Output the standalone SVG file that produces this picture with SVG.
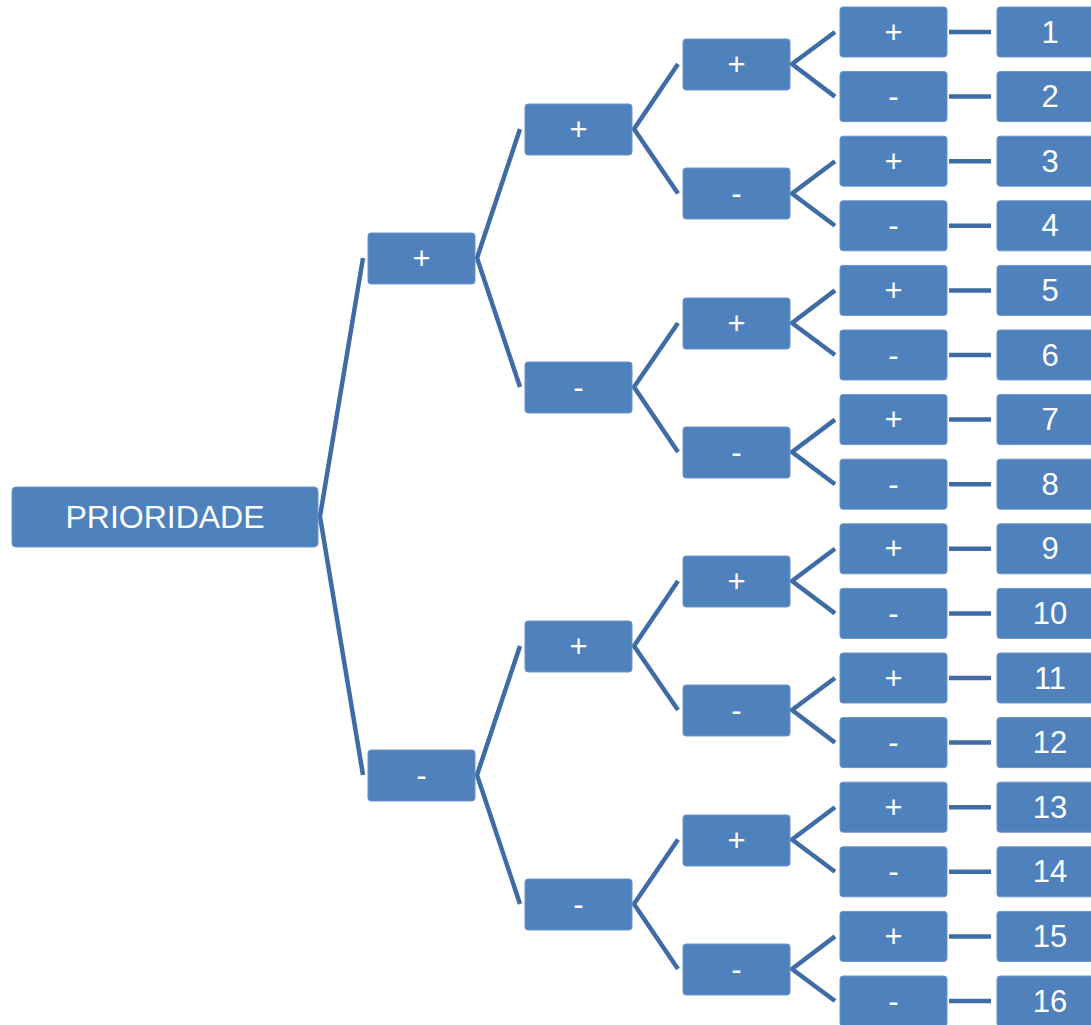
<svg xmlns="http://www.w3.org/2000/svg" width="1091" height="1025" viewBox="0 0 1091 1025">
<style>
.n{fill:#4F81BD;stroke:#6A93C8;stroke-width:1}
.t{fill:#fff;font-family:"Liberation Sans",Arial,sans-serif;text-anchor:middle;dominant-baseline:central}
.s{font-size:31px}
.d{font-size:31px}
.c{fill:none;stroke:#3F6CA4;stroke-width:4.5;stroke-linejoin:miter}
</style>
<rect width="1091" height="1025" fill="#fff"/>
<g id="connectors">
<path class="c" d="M363 258 L320 516.5 L363 775"/>
<path class="c" d="M520 129 L477 258 L520 387"/>
<path class="c" d="M520 646 L477 775 L520 904"/>
<path class="c" d="M678 64 L634 129 L678 193.5"/>
<path class="c" d="M678 323 L634 387 L678 452"/>
<path class="c" d="M678 581 L634 646 L678 710"/>
<path class="c" d="M678 839.5 L634 904 L678 969"/>
<path class="c" d="M835 32 L792 64 L835 96.6"/>
<path class="c" d="M835 161.2 L792 193.5 L835 225.8"/>
<path class="c" d="M835 290.4 L792 323 L835 355"/>
<path class="c" d="M835 419.6 L792 452 L835 484.2"/>
<path class="c" d="M835 548.8 L792 581 L835 613.4"/>
<path class="c" d="M835 678 L792 710 L835 742.6"/>
<path class="c" d="M835 807.2 L792 839.5 L835 871.8"/>
<path class="c" d="M835 936.4 L792 969 L835 1001"/>
<path class="c" d="M949 32H991M949 96.6H991M949 161.2H991M949 225.8H991M949 290.4H991M949 355H991M949 419.6H991M949 484.2H991M949 548.8H991M949 613.4H991M949 678H991M949 742.6H991M949 807.2H991M949 871.8H991M949 936.4H991M949 1001H991"/>
</g>
<g id="root"><rect class="n" x="12" y="487" width="306" height="60" rx="4"/><text class="t" x="165" y="517" font-size="32">PRIORIDADE</text></g>
<g id="l1p"><rect class="n" x="368" y="233" width="107" height="51" rx="3"/><text class="t s" x="421.5" y="258">+</text></g>
<g id="l1m"><rect class="n" x="368" y="750" width="107" height="51" rx="3"/><text class="t s" x="421.5" y="775">-</text></g>
<g id="l2a"><rect class="n" x="525" y="104" width="107" height="51" rx="3"/><text class="t s" x="578.5" y="129">+</text></g>
<g id="l2b"><rect class="n" x="525" y="362" width="107" height="51" rx="3"/><text class="t s" x="578.5" y="387">-</text></g>
<g id="l2c"><rect class="n" x="525" y="621" width="107" height="51" rx="3"/><text class="t s" x="578.5" y="646">+</text></g>
<g id="l2d"><rect class="n" x="525" y="879" width="107" height="51" rx="3"/><text class="t s" x="578.5" y="904">-</text></g>
<g id="l3a"><rect class="n" x="683" y="39" width="107" height="51" rx="3"/><text class="t s" x="736.5" y="64">+</text></g>
<g id="l3b"><rect class="n" x="683" y="168" width="107" height="51" rx="3"/><text class="t s" x="736.5" y="193.5">-</text></g>
<g id="l3c"><rect class="n" x="683" y="298" width="107" height="51" rx="3"/><text class="t s" x="736.5" y="323">+</text></g>
<g id="l3d"><rect class="n" x="683" y="427" width="107" height="51" rx="3"/><text class="t s" x="736.5" y="452">-</text></g>
<g id="l3e"><rect class="n" x="683" y="556" width="107" height="51" rx="3"/><text class="t s" x="736.5" y="581">+</text></g>
<g id="l3f"><rect class="n" x="683" y="685" width="107" height="51" rx="3"/><text class="t s" x="736.5" y="710">-</text></g>
<g id="l3g"><rect class="n" x="683" y="815" width="107" height="51" rx="3"/><text class="t s" x="736.5" y="840">+</text></g>
<g id="l3h"><rect class="n" x="683" y="944" width="107" height="51" rx="3"/><text class="t s" x="736.5" y="969">-</text></g>
<g id="l4-1"><rect class="n" x="840" y="7" width="107" height="50" rx="3"/><text class="t s" x="893.5" y="32">+</text></g>
<g id="l4-2"><rect class="n" x="840" y="71.6" width="107" height="50" rx="3"/><text class="t s" x="893.5" y="96.6">-</text></g>
<g id="l4-3"><rect class="n" x="840" y="136.2" width="107" height="50" rx="3"/><text class="t s" x="893.5" y="161.2">+</text></g>
<g id="l4-4"><rect class="n" x="840" y="200.8" width="107" height="50" rx="3"/><text class="t s" x="893.5" y="225.8">-</text></g>
<g id="l4-5"><rect class="n" x="840" y="265.4" width="107" height="50" rx="3"/><text class="t s" x="893.5" y="290.4">+</text></g>
<g id="l4-6"><rect class="n" x="840" y="330" width="107" height="50" rx="3"/><text class="t s" x="893.5" y="355">-</text></g>
<g id="l4-7"><rect class="n" x="840" y="394.6" width="107" height="50" rx="3"/><text class="t s" x="893.5" y="419.6">+</text></g>
<g id="l4-8"><rect class="n" x="840" y="459.2" width="107" height="50" rx="3"/><text class="t s" x="893.5" y="484.2">-</text></g>
<g id="l4-9"><rect class="n" x="840" y="523.8" width="107" height="50" rx="3"/><text class="t s" x="893.5" y="548.8">+</text></g>
<g id="l4-10"><rect class="n" x="840" y="588.4" width="107" height="50" rx="3"/><text class="t s" x="893.5" y="613.4">-</text></g>
<g id="l4-11"><rect class="n" x="840" y="653" width="107" height="50" rx="3"/><text class="t s" x="893.5" y="678">+</text></g>
<g id="l4-12"><rect class="n" x="840" y="717.6" width="107" height="50" rx="3"/><text class="t s" x="893.5" y="742.6">-</text></g>
<g id="l4-13"><rect class="n" x="840" y="782.2" width="107" height="50" rx="3"/><text class="t s" x="893.5" y="807.2">+</text></g>
<g id="l4-14"><rect class="n" x="840" y="846.8" width="107" height="50" rx="3"/><text class="t s" x="893.5" y="871.8">-</text></g>
<g id="l4-15"><rect class="n" x="840" y="911.4" width="107" height="50" rx="3"/><text class="t s" x="893.5" y="936.4">+</text></g>
<g id="l4-16"><rect class="n" x="840" y="976" width="107" height="50" rx="3"/><text class="t s" x="893.5" y="1001">-</text></g>
<g id="leaf-1"><rect class="n" x="997" y="7" width="107" height="50" rx="3"/><text class="t d" x="1050" y="32">1</text></g>
<g id="leaf-2"><rect class="n" x="997" y="71.6" width="107" height="50" rx="3"/><text class="t d" x="1050" y="96.6">2</text></g>
<g id="leaf-3"><rect class="n" x="997" y="136.2" width="107" height="50" rx="3"/><text class="t d" x="1050" y="161.2">3</text></g>
<g id="leaf-4"><rect class="n" x="997" y="200.8" width="107" height="50" rx="3"/><text class="t d" x="1050" y="225.8">4</text></g>
<g id="leaf-5"><rect class="n" x="997" y="265.4" width="107" height="50" rx="3"/><text class="t d" x="1050" y="290.4">5</text></g>
<g id="leaf-6"><rect class="n" x="997" y="330" width="107" height="50" rx="3"/><text class="t d" x="1050" y="355">6</text></g>
<g id="leaf-7"><rect class="n" x="997" y="394.6" width="107" height="50" rx="3"/><text class="t d" x="1050" y="419.6">7</text></g>
<g id="leaf-8"><rect class="n" x="997" y="459.2" width="107" height="50" rx="3"/><text class="t d" x="1050" y="484.2">8</text></g>
<g id="leaf-9"><rect class="n" x="997" y="523.8" width="107" height="50" rx="3"/><text class="t d" x="1050" y="548.8">9</text></g>
<g id="leaf-10"><rect class="n" x="997" y="588.4" width="107" height="50" rx="3"/><text class="t d" x="1050" y="613.4">10</text></g>
<g id="leaf-11"><rect class="n" x="997" y="653" width="107" height="50" rx="3"/><text class="t d" x="1050" y="678">11</text></g>
<g id="leaf-12"><rect class="n" x="997" y="717.6" width="107" height="50" rx="3"/><text class="t d" x="1050" y="742.6">12</text></g>
<g id="leaf-13"><rect class="n" x="997" y="782.2" width="107" height="50" rx="3"/><text class="t d" x="1050" y="807.2">13</text></g>
<g id="leaf-14"><rect class="n" x="997" y="846.8" width="107" height="50" rx="3"/><text class="t d" x="1050" y="871.8">14</text></g>
<g id="leaf-15"><rect class="n" x="997" y="911.4" width="107" height="50" rx="3"/><text class="t d" x="1050" y="936.4">15</text></g>
<g id="leaf-16"><rect class="n" x="997" y="976" width="107" height="50" rx="3"/><text class="t d" x="1050" y="1001">16</text></g>
</svg>
